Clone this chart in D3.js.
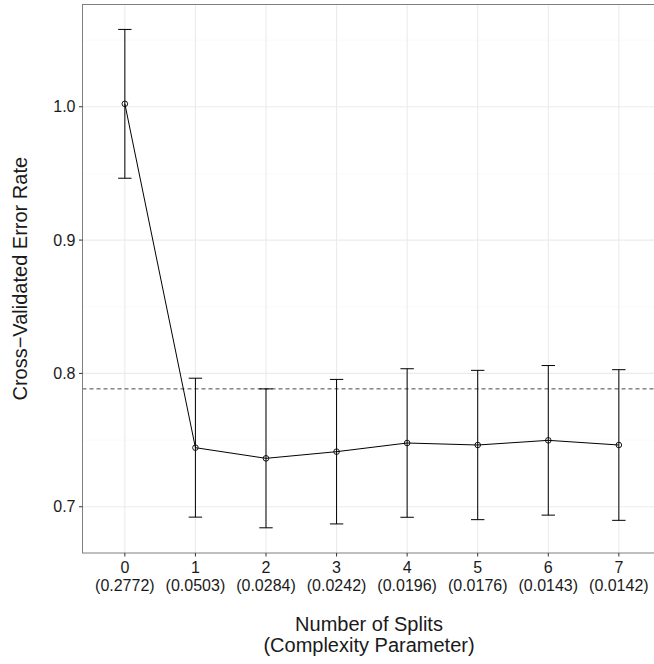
<!DOCTYPE html>
<html>
<head>
<meta charset="utf-8">
<script src="https://cdn.jsdelivr.net/npm/d3@7"></script>
<style>
  body { margin: 0; background: #fff; }
  text { font-family: "Liberation Sans", Arial, sans-serif; fill: #1a1a1a; }
</style>
</head>
<body>
<div class="chart"></div>
<script>
// values
const splits = [0, 1, 2, 3, 4, 5, 6, 7];
const cpLabels = ['0.2772', '0.0503', '0.0284', '0.0242', '0.0196', '0.0176', '0.0143', '0.0142'];
const xerror = [1.0022, 0.7443, 0.7363, 0.7413, 0.7478, 0.7463, 0.7498, 0.7463];
const xstd = [0.0558, 0.0521, 0.0521, 0.0542, 0.0557, 0.0560, 0.0561, 0.0565];
const yTicks = [0.7, 0.8, 0.9, 1.0];
const yMinor = [0.75, 0.85, 0.95, 1.05];

const width = 654, height = 664;
const panel = { left: 82.5, top: 4.5, right: 661.2, bottom: 553 };

const svg = d3.select('.chart')
  .append('svg')
  .attr('width', width)
  .attr('height', height);

// discrete axis with ggplot style 0.6 expansion
const x = d3.scaleLinear()
  .domain([-0.6, splits.length - 1 + 0.6])
  .range([panel.left, panel.right]);
const y = d3.scaleLinear()
  .domain([0.6653, 1.0767])
  .range([panel.bottom, panel.top]);

const grid = svg.append('g');
grid.selectAll('.minor')
  .data(yMinor)
  .enter().append('line')
  .attr('x1', panel.left).attr('x2', panel.right)
  .attr('y1', d => y(d)).attr('y2', d => y(d))
  .attr('stroke', '#f6f6f6').attr('stroke-width', 0.6);
grid.selectAll('.major-y')
  .data(yTicks)
  .enter().append('line')
  .attr('x1', panel.left).attr('x2', panel.right)
  .attr('y1', d => y(d)).attr('y2', d => y(d))
  .attr('stroke', '#ebebeb').attr('stroke-width', 1.1);
grid.selectAll('.major-x')
  .data(splits)
  .enter().append('line')
  .attr('x1', d => x(d)).attr('x2', d => x(d))
  .attr('y1', panel.top).attr('y2', panel.bottom)
  .attr('stroke', '#ebebeb').attr('stroke-width', 1.1);

// 1-SE threshold: min error plus its std
const iMin = d3.minIndex(xerror);
const thresh = xerror[iMin] + xstd[iMin];
svg.append('line')
  .attr('x1', panel.left).attr('x2', panel.right)
  .attr('y1', y(thresh)).attr('y2', y(thresh))
  .attr('stroke', '#333').attr('stroke-width', 0.9)
  .attr('stroke-dasharray', '4,3');

const pts = splits.map((s, i) => ({ s: s, e: xerror[i], sd: xstd[i] }));

// error bars
const bars = svg.append('g').attr('stroke', '#000').attr('stroke-width', 1);
bars.selectAll('.v')
  .data(pts)
  .enter().append('line')
  .attr('x1', d => x(d.s)).attr('x2', d => x(d.s))
  .attr('y1', d => y(d.e - d.sd)).attr('y2', d => y(d.e + d.sd));
bars.selectAll('.top')
  .data(pts)
  .enter().append('line')
  .attr('x1', d => x(d.s) - 6.7).attr('x2', d => x(d.s) + 6.7)
  .attr('y1', d => y(d.e + d.sd)).attr('y2', d => y(d.e + d.sd));
bars.selectAll('.bot')
  .data(pts)
  .enter().append('line')
  .attr('x1', d => x(d.s) - 6.7).attr('x2', d => x(d.s) + 6.7)
  .attr('y1', d => y(d.e - d.sd)).attr('y2', d => y(d.e - d.sd));

// line and open points
svg.append('path')
  .datum(pts)
  .attr('fill', 'none')
  .attr('stroke', '#000')
  .attr('stroke-width', 1)
  .attr('d', d3.line().x(d => x(d.s)).y(d => y(d.e)));
svg.append('g').selectAll('circle')
  .data(pts)
  .enter().append('circle')
  .attr('cx', d => x(d.s))
  .attr('cy', d => y(d.e))
  .attr('r', 2.8)
  .attr('fill', 'none')
  .attr('stroke', '#000')
  .attr('stroke-width', 0.9);

// panel border
svg.append('rect')
  .attr('x', panel.left).attr('y', panel.top)
  .attr('width', panel.right - panel.left)
  .attr('height', panel.bottom - panel.top)
  .attr('fill', 'none')
  .attr('stroke', '#7f7f7f')
  .attr('stroke-width', 1);

// y axis
const yAxis = svg.append('g');
yAxis.selectAll('line')
  .data(yTicks)
  .enter().append('line')
  .attr('x1', panel.left - 3.5).attr('x2', panel.left)
  .attr('y1', d => y(d)).attr('y2', d => y(d))
  .attr('stroke', '#333');
yAxis.selectAll('text')
  .data(yTicks)
  .enter().append('text')
  .attr('x', 75.5)
  .attr('y', d => y(d) + 5.5)
  .attr('text-anchor', 'end')
  .style('font-size', '16px')
  .text(d => d3.format('.1f')(d));

// x axis, two line labels
const xAxis = svg.append('g');
xAxis.selectAll('line')
  .data(splits)
  .enter().append('line')
  .attr('x1', d => x(d)).attr('x2', d => x(d))
  .attr('y1', panel.bottom).attr('y2', panel.bottom + 3.5)
  .attr('stroke', '#333');
xAxis.selectAll('.n')
  .data(splits)
  .enter().append('text')
  .attr('x', d => x(d))
  .attr('y', 572.5)
  .attr('text-anchor', 'middle')
  .style('font-size', '16px')
  .text(d => d);
xAxis.selectAll('.cp')
  .data(splits)
  .enter().append('text')
  .attr('x', d => x(d))
  .attr('y', 590.5)
  .attr('text-anchor', 'middle')
  .style('font-size', '16px')
  .text((d, i) => '(' + cpLabels[i] + ')');

// titles
const midX = (panel.left + 654) / 2 + 2;
svg.append('text')
  .attr('x', 369).attr('y', 631)
  .attr('text-anchor', 'middle')
  .style('font-size', '20px')
  .text('Number of Splits');
svg.append('text')
  .attr('x', 369).attr('y', 651.5)
  .attr('text-anchor', 'middle')
  .style('font-size', '20px')
  .text('(Complexity Parameter)');
svg.append('text')
  .attr('transform', `translate(26.5,${(panel.top + panel.bottom) / 2}) rotate(-90)`)
  .attr('text-anchor', 'middle')
  .style('font-size', '20px')
  .text('Cross\u2212Validated Error Rate');
</script>
</body>
</html>
